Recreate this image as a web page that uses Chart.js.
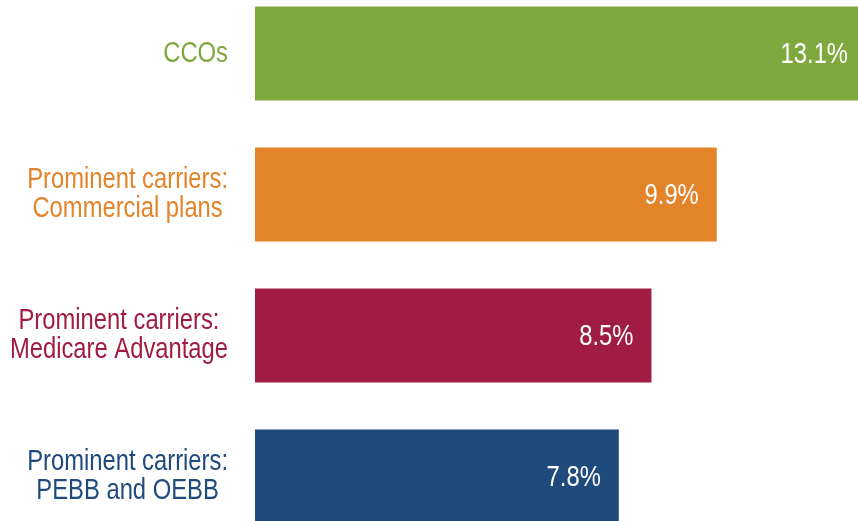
<!DOCTYPE html>
<html>
<head>
<meta charset="utf-8">
<script src="https://cdn.jsdelivr.net/npm/chart.js@4"></script>
<style>
  html, body { margin: 0; padding: 0; background: #fff; overflow: hidden; width: 858px; height: 521px; }
  #wrap { position: absolute; left: 0; top: -17px; width: 866px; height: 564px; }
</style>
</head>
<body>
<div id="wrap"><canvas id="plot"></canvas></div>
<script>
// data
const categories = [
  ['CCOs'],
  ['Prominent carriers:', 'Commercial plans'],
  ['Prominent carriers:', 'Medicare Advantage'],
  ['Prominent carriers:', 'PEBB and OEBB']
]
const values = [13.1, 9.9, 8.5, 7.8]
const colors = ['#7fa83f', '#e3842a', '#a01c42', '#1f4a7c']

// no narrow font installed, so squeeze Liberation Sans horizontally
const fontFamily = "'Liberation Sans', Arial, sans-serif"
const fontSize = 29
const squeeze = 0.82

function narrowText(ctx, text, x, y) {
  ctx.save()
  ctx.translate(x, y)
  ctx.scale(squeeze, 1)
  ctx.fillText(text, 0, 0)
  ctx.restore()
}

// draws category names (centred lines, right edge near the bars) and the values inside bars
const labelPlugin = {
  id: 'labels',
  afterDatasetsDraw(chart) {
    const ctx = chart.ctx
    const yScale = chart.scales.y
    const meta = chart.getDatasetMeta(0)
    ctx.save()
    ctx.font = fontSize + 'px ' + fontFamily
    ctx.textBaseline = 'middle'
    categories.forEach((lines, i) => {
      const yc = yScale.getPixelForValue(i)
      const maxW = Math.max(...lines.map(l => ctx.measureText(l).width)) * squeeze
      const cx = chart.chartArea.left - 27 - maxW / 2
      ctx.fillStyle = colors[i]
      ctx.textAlign = 'center'
      lines.forEach((l, j) => {
        const y = yc + (j - (lines.length - 1) / 2) * 29
        narrowText(ctx, l, cx, y)
      })
      // value label
      const bar = meta.data[i]
      ctx.fillStyle = '#ffffff'
      ctx.textAlign = 'right'
      narrowText(ctx, values[i].toFixed(1) + '%', bar.x - 18, yc + 1)
    })
    ctx.restore()
  }
}

const chart = new Chart(
  document.getElementById('plot'),
  {
    type: 'bar',
    data: {
      labels: categories,
      datasets: [{
        data: values,
        backgroundColor: colors,
        borderWidth: 0,
        categoryPercentage: 1,
        barPercentage: 94 / 141
      }]
    },
    options: {
      indexAxis: 'y',
      responsive: true,
      maintainAspectRatio: false,
      animation: false,
      events: [],
      layout: { padding: { left: 255, right: 0, top: 0, bottom: 0 } },
      plugins: {
        legend: { display: false },
        tooltip: { enabled: false }
      },
      scales: {
        x: {
          min: 0,
          max: 13.1,
          display: false
        },
        y: {
          display: false
        }
      }
    },
    plugins: [labelPlugin]
  }
);
</script>
</body>
</html>
